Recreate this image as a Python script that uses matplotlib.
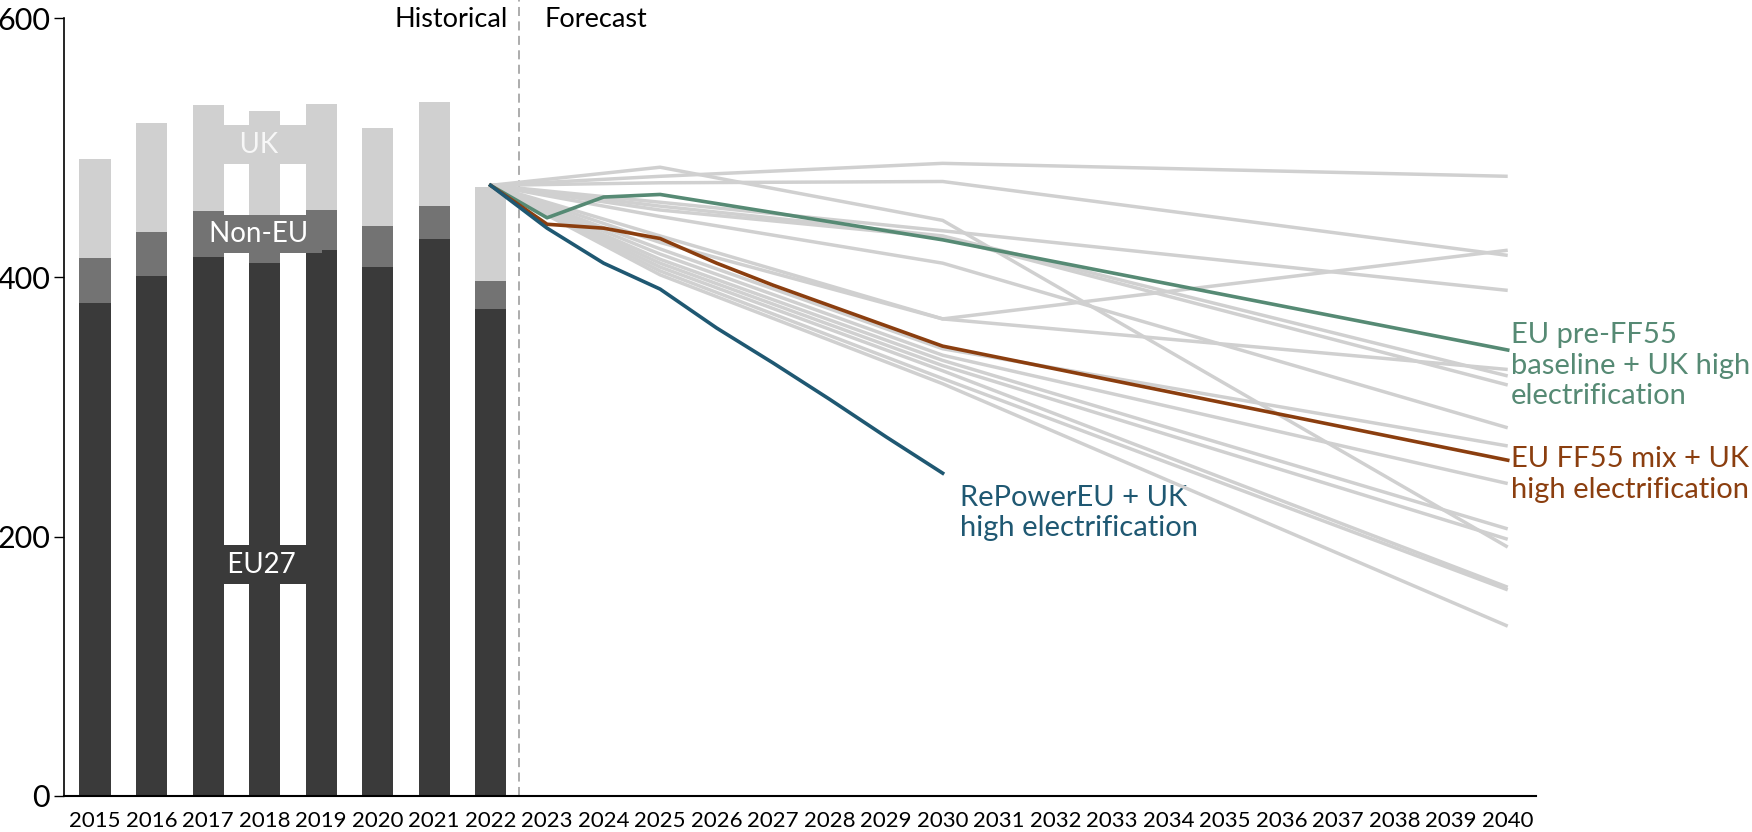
import numpy as np
import matplotlib.pyplot as plt

plt.rcParams['font.family'] = ['Lato', 'DejaVu Sans']

# Historical bars (stacked)
hist_years = [2015, 2016, 2017, 2018, 2019, 2020, 2021, 2022]
eu27 = [380, 401, 416, 411, 421, 408, 430, 376]
non_eu = [35, 34, 35, 37, 31, 32, 25, 21]
uk = [76, 84, 82, 80, 82, 75, 80, 73]

# Forecast scenarios
gray_years = [2022, 2025, 2030, 2040]
gray_scenarios = [
    [471, 478, 488, 478],
    [471, 485, 444, 192],
    [471, 473, 474, 417],
    [471, 458, 436, 390],
    [471, 455, 432, 324],
    [471, 452, 431, 317],
    [471, 447, 411, 284],
    [471, 432, 368, 421],
    [471, 427, 368, 329],
    [471, 422, 345, 270],
    [471, 418, 340, 241],
    [471, 414, 336, 206],
    [471, 411, 332, 198],
    [471, 408, 328, 161],
    [471, 405, 322, 159],
    [471, 402, 318, 131],
]

green_years = [2022, 2023, 2024, 2025, 2030, 2040]
green_vals = [471, 446, 462, 464, 429, 344]
brown_years = [2022, 2023, 2024, 2025, 2026, 2027, 2030, 2040]
brown_vals = [471, 441, 438, 430, 411, 394, 347, 259]
blue_years = [2022, 2023, 2024, 2025, 2026, 2027, 2028, 2029, 2030]
blue_vals = [471, 438, 411, 391, 361, 334, 306, 277, 249]

all_years = list(range(2015, 2041))

C_EU = '#3a3a3a'
C_NONEU = '#737373'
C_UK = '#d0d0d0'
C_GREEN = '#568a74'
C_BROWN = '#8b3e0f'
C_BLUE = '#1f5872'

fig = plt.figure(figsize=(17.52, 8.32), dpi=100)
ax = fig.add_axes([0.0365, 0.0433, 0.8402, 0.9567])

eu27 = np.array(eu27)
non_eu = np.array(non_eu)
uk = np.array(uk)
w = 0.55
ax.bar(hist_years, eu27, width=w, color=C_EU, zorder=2)
ax.bar(hist_years, non_eu, bottom=eu27, width=w, color=C_NONEU, zorder=2)
ax.bar(hist_years, uk, bottom=eu27 + non_eu, width=w, color=C_UK, zorder=2)

# labels on the bars
ax.text(2017.9, 502.5, '     UK     ', ha='center', va='center', fontsize=20, color='#f7f7f7',
        bbox=dict(boxstyle='square,pad=0.22', facecolor=C_UK, edgecolor='none'), zorder=3)
ax.text(2017.9, 433.5, ' Non-EU ', ha='center', va='center', fontsize=20, color='white',
        bbox=dict(boxstyle='square,pad=0.22', facecolor=C_NONEU, edgecolor='none'), zorder=3)
ax.text(2017.95, 178.5, '   EU27   ', ha='center', va='center', fontsize=20, color='white',
        bbox=dict(boxstyle='square,pad=0.22', facecolor=C_EU, edgecolor='none'), zorder=3)

for vals in gray_scenarios:
    ax.plot(gray_years, vals, color=C_UK, lw=2.5, zorder=4, solid_capstyle='butt')
ax.plot(green_years, green_vals, color=C_GREEN, lw=2.6, zorder=5)
ax.plot(brown_years, brown_vals, color=C_BROWN, lw=2.6, zorder=5)
ax.plot(blue_years, blue_vals, color=C_BLUE, lw=2.6, zorder=5)

ax.text(2040.05, 332, 'EU pre-FF55\nbaseline + UK high\nelectrification', color=C_GREEN,
        fontsize=21, ha='left', va='center', linespacing=1.2)
ax.text(2040.05, 248, 'EU FF55 mix + UK\nhigh electrification', color=C_BROWN,
        fontsize=21, ha='left', va='center', linespacing=1.2)
ax.text(2030.3, 218, 'RePowerEU + UK\nhigh electrification', color=C_BLUE,
        fontsize=21, ha='left', va='center', linespacing=1.2)

# historical / forecast split
ax.axvline(2022.5, color='#a6a6a6', lw=1.3, ls=(0, (5, 3)), zorder=1)
ax.text(2022.3, 599, 'Historical', ha='right', va='center', fontsize=19.5)
ax.text(2022.95, 599, 'Forecast', ha='left', va='center', fontsize=19.5)

ax.set_xlim(2014.45, 2040.5)
ax.set_ylim(0, 614)
ax.set_xticks(all_years)
ax.set_xticklabels([str(y) for y in all_years], fontsize=16)
ax.set_yticks([0, 200, 400, 600])
ax.tick_params(axis='x', length=0, pad=11)
ax.tick_params(axis='y', length=7, width=1, labelsize=22, pad=3)
for s in ['top', 'right']:
    ax.spines[s].set_visible(False)
ax.spines['left'].set_bounds(0, 600)
ax.spines['left'].set_linewidth(1.2)
ax.spines['bottom'].set_linewidth(1.5)

fig.savefig('out.png', dpi=100)
